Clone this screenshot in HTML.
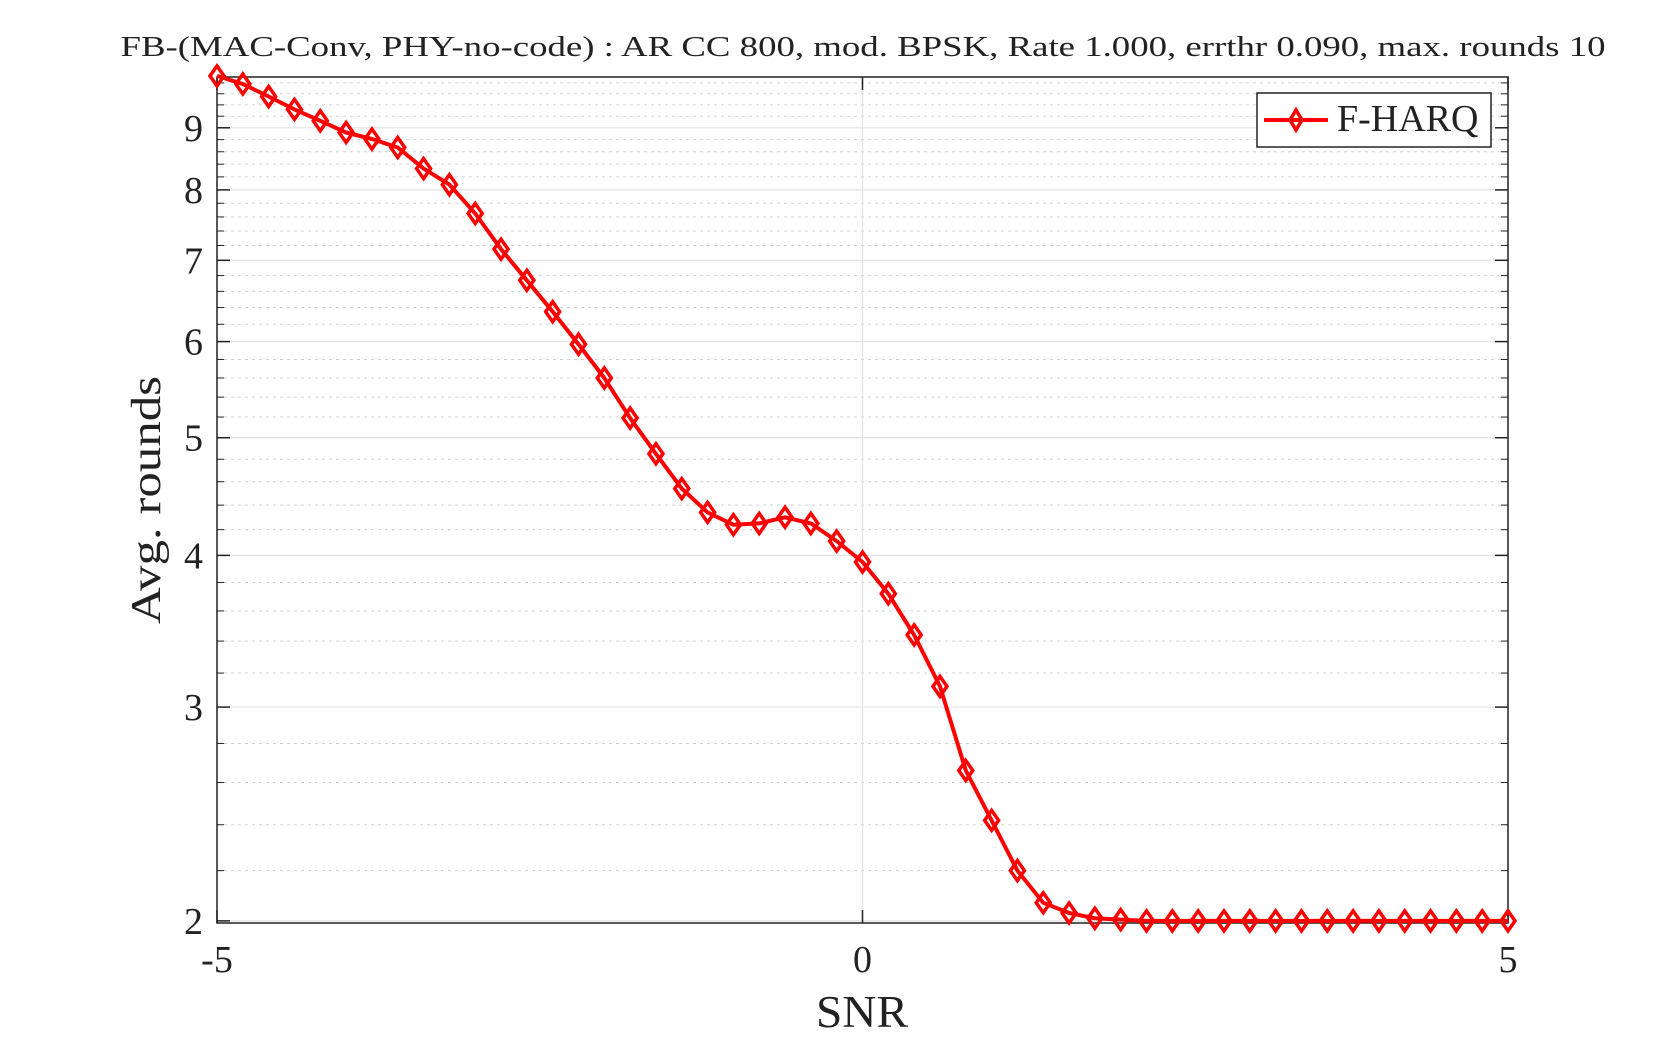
<!DOCTYPE html>
<html><head><meta charset="utf-8"><style>
html,body{margin:0;padding:0;background:#fff;}
svg text{font-family:"Liberation Serif",serif;fill:#222;}
</style></head><body>
<svg id="chart" width="1667" height="1042" viewBox="0 0 1667 1042" xmlns="http://www.w3.org/2000/svg">
<rect width="1667" height="1042" fill="#fff"/>
<g id="grid"></g>
<g id="axes"></g>
<g id="series"></g>
<text x="863" y="56" font-size="29" text-anchor="middle" textLength="1485" lengthAdjust="spacingAndGlyphs">FB-(MAC-Conv, PHY-no-code) : AR CC 800, mod. BPSK, Rate 1.000, errthr 0.090, max. rounds 10</text>
<text x="862" y="1027" font-size="45" text-anchor="middle" textLength="92" lengthAdjust="spacingAndGlyphs">SNR</text>
<text transform="translate(160,500) rotate(-90)" font-size="42" text-anchor="middle" textLength="248" lengthAdjust="spacingAndGlyphs">Avg. rounds</text>
<g>
<rect x="1257" y="93" width="234" height="54" fill="#fff" stroke="#222" stroke-width="1.5"/>
<line x1="1264" y1="120" x2="1328" y2="120" stroke="#f00" stroke-width="4"/>
<polygon points="1296,110 1302,120 1296,130 1290,120" fill="none" stroke="#f00" stroke-width="3.5"/>
<text x="1337" y="131" font-size="38">F-HARQ</text>
</g>
</svg>
<script>
const xValues = [-5,-4.8,-4.6,-4.4,-4.2,-4,-3.8,-3.6,-3.4,-3.2,-3,-2.8,-2.6,-2.4,-2.2,-2,-1.8,-1.6,-1.4,-1.2,-1,-0.8,-0.6,-0.4,-0.2,0,0.2,0.4,0.6,0.8,1,1.2,1.4,1.6,1.8,2,2.2,2.4,2.6,2.8,3,3.2,3.4,3.6,3.8,4,4.2,4.4,4.6,4.8,5];
const avgRounds = [9.93,9.78,9.55,9.32,9.12,8.92,8.81,8.67,8.33,8.08,7.65,7.15,6.74,6.35,5.97,5.60,5.19,4.85,4.54,4.34,4.24,4.25,4.30,4.25,4.11,3.95,3.72,3.44,3.12,2.66,2.42,2.20,2.07,2.03,2.01,2.005,2.0,2.0,2.0,2.0,2.0,2.0,2.0,2.0,2.0,2.0,2.0,2.0,2.0,2.0,2.0];
const xTicks = [-5,0,5];
const yTicks = [2,3,4,5,6,7,8,9];

const L=217,R=1508,T=77,B=923;
const xMin=-5,xMax=5,yMin=1.992,yMax=9.91;
const NS='http://www.w3.org/2000/svg';
function xs(v){return L+(v-xMin)/(xMax-xMin)*(R-L);}
function ys(v){return B-(Math.log(v)-Math.log(yMin))/(Math.log(yMax)-Math.log(yMin))*(B-T);}
function mk(tag,attrs,parent){const e=document.createElementNS(NS,tag);for(const k in attrs)e.setAttribute(k,attrs[k]);parent.appendChild(e);return e;}
const grid=document.getElementById('grid'),axes=document.getElementById('axes'),series=document.getElementById('series');

for(let k=20;k<=100;k+=2){const v=k/10;if(k%10===0)continue;if(v<yMin||v>yMax)continue;const y=ys(v);
 const g=mk('line',{x1:L,x2:R,y1:y,y2:y,stroke:'#d0d0d0','stroke-width':1,'stroke-dasharray':'3,4'},grid);
 
 
 const t1=mk('line',{x1:L,x2:L+7,y1:y,y2:y,stroke:'#222','stroke-width':1},axes);
 
 
 const t2=mk('line',{x1:R,x2:R-7,y1:y,y2:y,stroke:'#222','stroke-width':1},axes);
 
 
}
yTicks.forEach(v=>{const y=ys(v);
 const g=mk('line',{x1:L,x2:R,y1:y,y2:y,stroke:'#e3e3e3','stroke-width':1.2},grid);
 
 
 const t1=mk('line',{x1:L,x2:L+13,y1:y,y2:y,stroke:'#222','stroke-width':1.5},axes);
 
 
 const t2=mk('line',{x1:R,x2:R-13,y1:y,y2:y,stroke:'#222','stroke-width':1.5},axes);
 
 
 const tx=mk('text',{x:203,y:y+13,'font-size':38,'text-anchor':'end'},axes);
 tx.textContent=v;
 
 
});
xTicks.forEach(v=>{const x=xs(v);
 const g=mk('line',{x1:x,x2:x,y1:T,y2:B,stroke:'#e3e3e3','stroke-width':1.2},grid);
 
 
 const t1=mk('line',{x1:x,x2:x,y1:B,y2:B-13,stroke:'#222','stroke-width':1.5},axes);
 
 
 const t2=mk('line',{x1:x,x2:x,y1:T,y2:T+13,stroke:'#222','stroke-width':1.5},axes);
 
 
 const tx=mk('text',{x:x,y:972,'font-size':38,'text-anchor':'middle'},axes);
 tx.textContent=v;
 
 
});
const box=mk('rect',{x:L,y:T,width:R-L,height:B-T,fill:'none',stroke:'#222','stroke-width':1.5},axes);



const pts=xValues.map((v,i)=>xs(v).toFixed(1)+','+ys(avgRounds[i]).toFixed(1)).join(' ');
const line=mk('polyline',{points:pts,fill:'none',stroke:'#f00','stroke-width':4,'stroke-linejoin':'round'},series);


xValues.forEach((v,i)=>{const x=xs(v),y=ys(avgRounds[i]);
 const m=mk('polygon',{points:`${x},${y-10} ${x+7},${y} ${x},${y+10} ${x-7},${y}`,fill:'none',stroke:'#f00','stroke-width':3.5},series);
 
 
});
</script>
</body></html>
